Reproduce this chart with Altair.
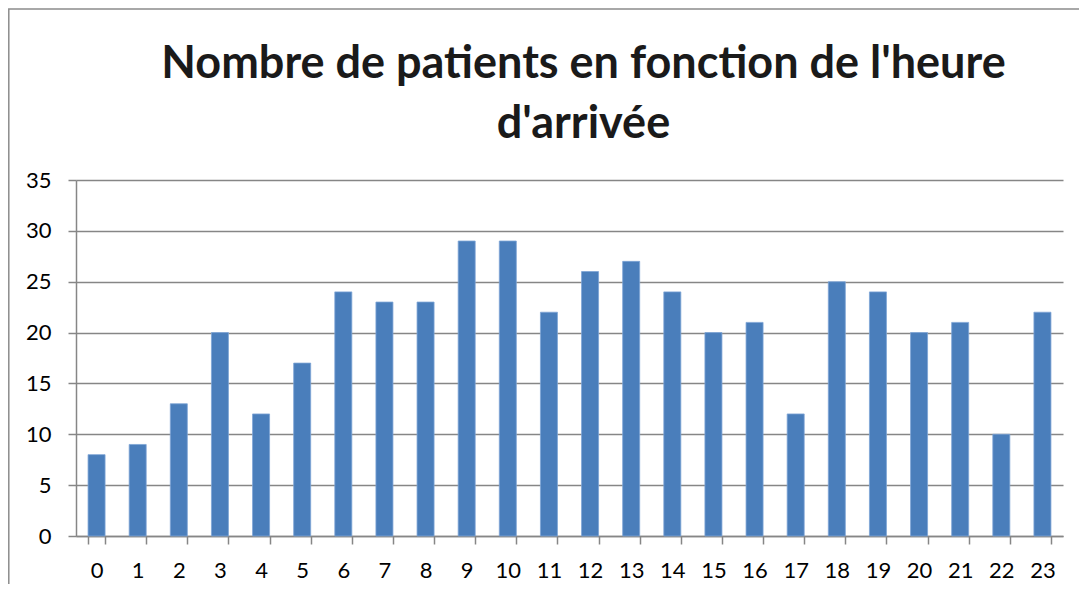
import altair as alt
import pandas as pd

hours = [str(h) for h in range(24)]
patients = [8, 9, 13, 20, 12, 17, 24, 23, 23, 29, 29, 22, 26, 27, 24, 20, 21, 12, 25, 24, 20, 21, 10, 22]
title_lines = ["Nombre de patients en fonction de l'heure", "d'arrivée"]

df = pd.DataFrame({"heure": hours, "patients": patients})

W, H = 987, 356
FONT = "Lato"
GRAY = "#868686"

frame = alt.Chart(alt.Data(values=[{"a": 1}])).mark_rect(
    filled=False, stroke="#8c8c8c", strokeWidth=1.5
).encode(
    x=alt.value(-67.2), x2=alt.value(W + 60),
    y=alt.value(-171), y2=alt.value(H + 90),
)

bars = alt.Chart(df).mark_bar(color="#4a7ebb", stroke="#7ea4d6", strokeWidth=0.8).encode(
    x=alt.X(
        "heure:N", sort=hours, title=None,
        scale=alt.Scale(paddingInner=0.586, paddingOuter=0.293),
        axis=alt.Axis(
            labelAngle=0, tickBand="extent", tickSize=8, tickColor=GRAY, tickWidth=1.5,
            domainColor=GRAY, domainWidth=1.5, labelFont=FONT, labelFontSize=22,
            labelColor="#000000", labelPadding=16, grid=False,
        ),
    ),
    y=alt.Y(
        "patients:Q", title=None,
        scale=alt.Scale(domain=[0, 35], nice=False),
        axis=alt.Axis(
            values=[0, 5, 10, 15, 20, 25, 30, 35], tickSize=8, tickColor=GRAY, tickWidth=1.5,
            domainColor=GRAY, domainWidth=1.5, gridColor=GRAY, gridWidth=1.3,
            labelFont=FONT, labelFontSize=22, labelColor="#000000", labelPadding=17,
        ),
    ),
)

chart = alt.layer(frame, bars).properties(
    width=W, height=H,
    title=alt.TitleParams(
        text=title_lines, font=FONT, fontSize=45, fontWeight="bold", color="#1a1a1a",
        anchor="middle", dx=14, offset=-139, lineHeight=60,
    ),
    autosize=alt.AutoSizeParams(type="none"),
    padding={"left": 68, "top": 172, "right": 16, "bottom": 48},
).configure_view(stroke=None)

chart.save("out.html", embed_options={"renderer": "svg", "actions": False})
